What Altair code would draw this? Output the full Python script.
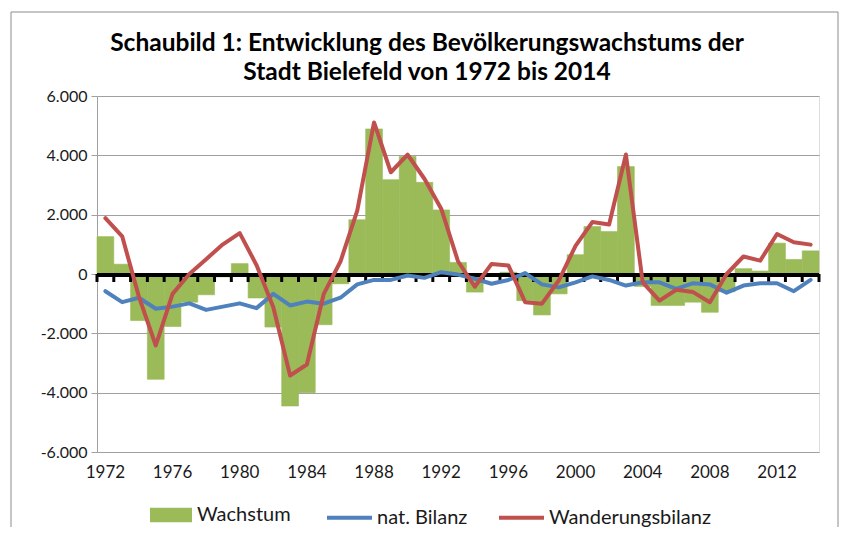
import altair as alt
import pandas as pd

years = list(range(1972, 2015))
label_years = list(range(1972, 2013, 4))

wachstum = [1260, 330, -1570, -3550, -1770, -950, -700, -100, 350, -810,
            -1790, -4450, -4000, -1710, -330, 1830, 4890, 3180, 3960, 3090,
            2160, 390, -610, 0, 60, -900, -1380, -670, 650, 1600,
            1430, 3620, -420, -1060, -1060, -950, -1290, -600, 180, 100,
            1040, 490, 780]

nat_bilanz = [-580, -950, -800, -1170, -1100, -990, -1210, -1100, -990, -1150,
              -670, -1060, -930, -1000, -800, -350, -200, -200, -50, -130,
              60, -20, -160, -330, -200, 30, -350, -450, -280, -80,
              -200, -390, -280, -280, -500, -310, -350, -630, -390, -310,
              -310, -580, -200]

wanderung = [1880, 1270, -770, -2410, -670, 0, 500, 1000, 1380, 300,
             -1120, -3420, -3050, -680, 420, 2140, 5110, 3430, 4020, 3210,
             2200, 430, -430, 340, 290, -950, -1000, -220, 950, 1750,
             1670, 4030, -280, -900, -530, -610, -950, 0, 590, 450,
             1350, 1070, 990]

GREEN = "#9BBB59"
BLUE = "#4F81BD"
RED = "#C0504D"
FONT = "Lato"
TXT = "#1a1a1a"

bars_df = pd.DataFrame({"Jahr": years, "Reihe": "Wachstum", "Wert": wachstum})
lines_df = pd.DataFrame({
    "Jahr": years + years,
    "Reihe": ["nat. Bilanz"] * len(years) + ["Wanderungsbilanz"] * len(years),
    "Wert": nat_bilanz + wanderung,
})
years_df = pd.DataFrame({"Jahr": years})
labels_df = pd.DataFrame({"Jahr": label_years, "Text": [str(y) for y in label_years]})
frame_df = pd.DataFrame({"k": [0]})

xscale = alt.Scale(paddingInner=0, paddingOuter=0)
xaxis = alt.Axis(title=None, domain=False, ticks=False, grid=False, labels=False)

y_main = alt.Y(
    "Wert:Q",
    scale=alt.Scale(domain=[-6000, 6000], nice=False, zero=False),
    axis=alt.Axis(values=list(range(-6000, 6001, 2000)), title=None,
                  labelExpr="(datum.value < 0 ? '-' : '') + replace(format(abs(datum.value), ','), ',', '.')",
                  grid=True, gridColor="#a0a0a0", gridWidth=1,
                  domain=True, domainColor="#a0a0a0", domainWidth=1,
                  ticks=True, tickColor="#a0a0a0", tickSize=6,
                  labelPadding=4, labelFontSize=16, labelFont=FONT,
                  labelColor=TXT),
)

bars = alt.Chart(bars_df).mark_bar(stroke=GREEN, strokeWidth=0.6).encode(
    x=alt.X("Jahr:O", scale=xscale, axis=xaxis),
    y=y_main,
    fill=alt.Fill("Reihe:N", scale=alt.Scale(domain=["Wachstum"], range=[GREEN]),
                  legend=alt.Legend(orient="none", legendX=53, legendY=398,
                                    direction="horizontal", title=None,
                                    symbolType="M-1,-0.35L1,-0.35L1,0.35L-1,0.35Z",
                                    symbolSize=1764, symbolStrokeWidth=0,
                                    labelFontSize=20, labelFont=FONT,
                                    labelColor=TXT, labelOffset=5)),
)

zero_line = alt.Chart(frame_df).mark_rule(color="black", strokeWidth=4, yOffset=1).encode(
    y=alt.datum(0)
)

ticks = alt.Chart(years_df).mark_rule(color="black", strokeWidth=3, y2Offset=8).encode(
    x=alt.X("Jahr:O", scale=xscale, bandPosition=0, axis=xaxis),
    y=alt.datum(0),
    y2=alt.datum(0),
)
end_tick = alt.Chart(years_df).transform_filter("datum.Jahr == 2014").mark_rule(
    color="black", strokeWidth=3, y2Offset=8).encode(
    x=alt.X("Jahr:O", scale=xscale, bandPosition=1, axis=xaxis),
    y=alt.datum(0),
    y2=alt.datum(0),
)

year_labels = alt.Chart(labels_df).mark_text(
    font=FONT, fontSize=17, color=TXT, align="center", baseline="middle"
).encode(
    x=alt.X("Jahr:O", scale=xscale, axis=xaxis),
    y=alt.value(377),
    text="Text:N",
)

lines = alt.Chart(lines_df).mark_line(strokeWidth=4, strokeJoin="round", strokeCap="round").encode(
    x=alt.X("Jahr:O", scale=xscale, axis=xaxis),
    y=alt.Y("Wert:Q"),
    stroke=alt.Stroke("Reihe:N",
                      scale=alt.Scale(domain=["nat. Bilanz", "Wanderungsbilanz"], range=[BLUE, RED]),
                      legend=alt.Legend(orient="none", legendX=228, legendY=397,
                                        direction="horizontal", title=None,
                                        symbolType="stroke", symbolSize=2025,
                                        symbolStrokeWidth=4, columnPadding=23,
                                        labelFontSize=20, labelFont=FONT, labelLimit=400,
                                        labelColor=TXT, labelOffset=3)),
)

frame = alt.Chart(frame_df).mark_rect(filled=False, stroke="#8c8c8c", strokeWidth=1).encode(
    x=alt.value(-86), x2=alt.value(741), y=alt.value(-84), y2=alt.value(440)
)

chart = alt.layer(frame, bars, zero_line, ticks, end_tick, year_labels, lines).resolve_scale(
    fill="independent", stroke="independent"
).properties(
    width=722,
    height=356,
    padding={"left": 89, "top": 88, "right": 20, "bottom": 75},
    autosize=alt.AutoSizeParams(type="none"),
    title=alt.TitleParams(
        ["Schaubild 1: Entwicklung des Bevölkerungswachstums der",
         "Stadt Bielefeld von 1972 bis 2014"],
        anchor="middle", fontSize=24.5, font=FONT, fontWeight="bold",
        lineHeight=29, offset=-74, dx=-31, color="black",
    ),
).configure_view(stroke=None).configure(background="white")

chart.save("out.html", embed_options={"renderer": "svg", "actions": False})
